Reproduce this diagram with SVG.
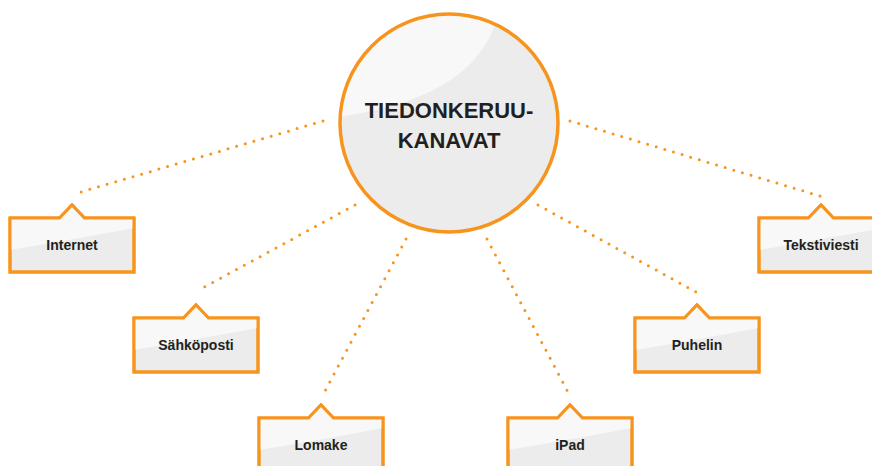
<svg xmlns="http://www.w3.org/2000/svg" width="872" height="466" viewBox="0 0 872 466">
  <style>
    .link { fill: none; stroke: #f7941d; stroke-width: 3; stroke-linecap: round; stroke-dasharray: 0 9; }
    .frame { fill: #ebeceb; stroke: #f7941d; stroke-width: 3; }
    .gloss { fill: #f8f8f8; }
    .label { font-family: "Liberation Sans", Arial, sans-serif; font-weight: bold; font-size: 14px; fill: #231f20; text-anchor: middle; }
    .title { font-family: "Liberation Sans", Arial, sans-serif; font-weight: bold; font-size: 22px; fill: #231f20; text-anchor: middle; }
  </style>
  <defs>
    <!-- callout box: 124 x 54 with a small pointer on top, drawn at origin -->
    <path id="boxShape" d="M0,0 H49.5 L62,-13 L74.5,0 H124 V54 H0 Z"/>
    <clipPath id="boxClip"><use href="#boxShape"/></clipPath>
    <path id="boxGloss" d="M0,-14 H124 V10 Q60,22 0,32 Z"/>
    <clipPath id="hubClip"><circle cx="449" cy="123" r="109"/></clipPath>
  </defs>

  <rect width="872" height="466" fill="#ffffff"/>

  <g id="connectors">
    <line class="link" x1="323" y1="121" x2="74" y2="194"/>
    <line class="link" x1="355" y1="205" x2="197" y2="291"/>
    <line class="link" x1="406" y1="239" x2="325" y2="391"/>
    <line class="link" x1="487" y1="239" x2="568" y2="392"/>
    <line class="link" x1="538" y1="205" x2="696" y2="292"/>
    <line class="link" x1="570" y1="121" x2="820" y2="196"/>
  </g>

  <g id="hub">
    <circle cx="449" cy="123" r="109" fill="#ebeceb"/>
    <path clip-path="url(#hubClip)" d="M330,118 C410,108 492,80 500,0 L330,0 Z" fill="#f8f8f8"/>
    <circle cx="449" cy="123" r="109" fill="none" stroke="#f7941d" stroke-width="3.5"/>
    <text class="title" x="449" y="118">TIEDONKERUU-</text>
    <text class="title" x="449" y="148">KANAVAT</text>
  </g>

  <g id="internet" transform="translate(10,218)">
    <use href="#boxShape" class="frame"/>
    <use href="#boxGloss" class="gloss" clip-path="url(#boxClip)"/>
    <use href="#boxShape" fill="none" stroke="#f7941d" stroke-width="3"/>
    <text class="label" x="62" y="32">Internet</text>
  </g>

  <g id="sahkoposti" transform="translate(134,318)">
    <use href="#boxShape" class="frame"/>
    <use href="#boxGloss" class="gloss" clip-path="url(#boxClip)"/>
    <use href="#boxShape" fill="none" stroke="#f7941d" stroke-width="3"/>
    <text class="label" x="62" y="32">Sähköposti</text>
  </g>

  <g id="lomake" transform="translate(259,418)">
    <use href="#boxShape" class="frame"/>
    <use href="#boxGloss" class="gloss" clip-path="url(#boxClip)"/>
    <use href="#boxShape" fill="none" stroke="#f7941d" stroke-width="3"/>
    <text class="label" x="62" y="32">Lomake</text>
  </g>

  <g id="ipad" transform="translate(508,418)">
    <use href="#boxShape" class="frame"/>
    <use href="#boxGloss" class="gloss" clip-path="url(#boxClip)"/>
    <use href="#boxShape" fill="none" stroke="#f7941d" stroke-width="3"/>
    <text class="label" x="62" y="32">iPad</text>
  </g>

  <g id="puhelin" transform="translate(635,318)">
    <use href="#boxShape" class="frame"/>
    <use href="#boxGloss" class="gloss" clip-path="url(#boxClip)"/>
    <use href="#boxShape" fill="none" stroke="#f7941d" stroke-width="3"/>
    <text class="label" x="62" y="32">Puhelin</text>
  </g>

  <g id="tekstiviesti" transform="translate(759,218)">
    <use href="#boxShape" class="frame"/>
    <use href="#boxGloss" class="gloss" clip-path="url(#boxClip)"/>
    <use href="#boxShape" fill="none" stroke="#f7941d" stroke-width="3"/>
    <text class="label" x="62" y="32">Tekstiviesti</text>
  </g>
</svg>
